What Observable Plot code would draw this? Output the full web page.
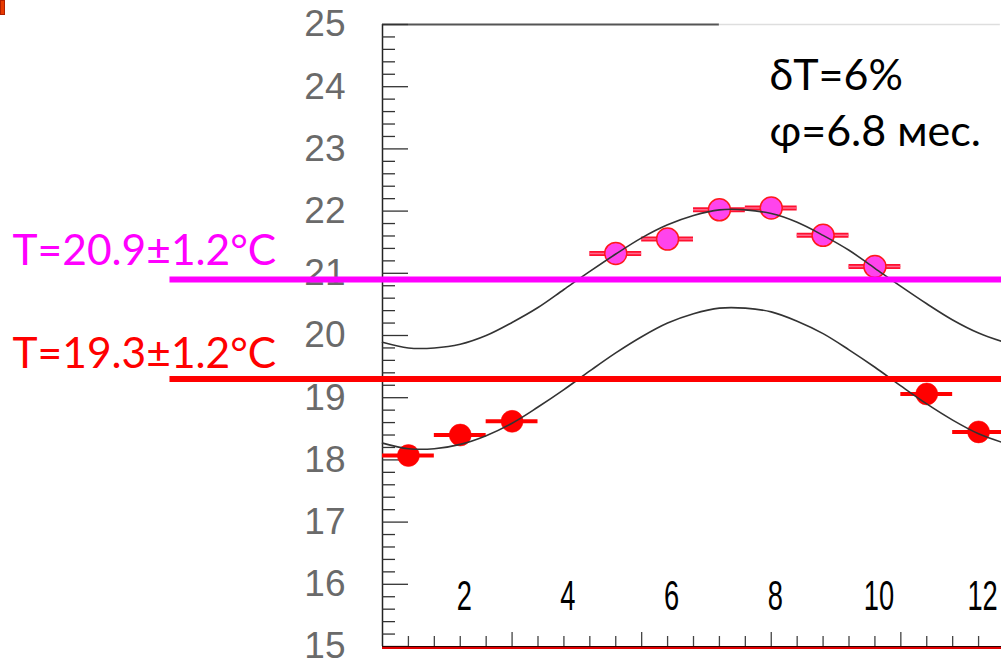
<!DOCTYPE html>
<html>
<head>
<meta charset="utf-8">
<script src="https://cdn.jsdelivr.net/npm/d3@7"></script>
<script src="https://cdn.jsdelivr.net/npm/@observablehq/plot@0.6"></script>
<style>
  html, body { margin: 0; padding: 0; background: #fff; }
  #chart { position: relative; width: 1001px; height: 659px; overflow: hidden; }
  #corner { position: absolute; left: 0; top: 0; width: 3px; height: 13px; background: #e83a00; border: 1px solid #b02000; }
</style>
</head>
<body>
<div id="chart"><div id="corner"></div></div>
<script>
// ---- data ----
const redMonths  = [1, 2, 3, 11, 12];
const redTemps   = [18.07, 18.40, 18.62, 19.06, 18.45];
const pinkMonths = [5, 6, 7, 8, 9, 10];
const pinkTemps  = [21.32, 21.55, 22.02, 22.05, 21.61, 21.11];
const monthErr   = 0.5;

const fitMonths = [0.5, 1, 1.5, 2, 2.5, 3, 3.5, 4, 4.5, 5, 5.5, 6, 6.5, 7, 7.5, 8, 8.5, 9, 9.5, 10, 10.5, 11, 11.5, 12, 12.5];
const upperFit  = [19.89, 19.80, 19.80, 19.86, 20.00, 20.21, 20.45, 20.74, 21.03, 21.31, 21.57, 21.78, 21.93, 22.02, 22.02, 21.96, 21.82, 21.61, 21.37, 21.08, 20.79, 20.51, 20.25, 20.04, 19.89];
const lowerFit  = [18.27, 18.18, 18.18, 18.25, 18.39, 18.59, 18.85, 19.13, 19.43, 19.72, 19.98, 20.20, 20.35, 20.44, 20.44, 20.38, 20.23, 20.03, 19.77, 19.49, 19.19, 18.90, 18.64, 18.42, 18.27];

const meanPink = 20.9;
const meanRed  = 19.3;
const meanPinkLabel = "T=20.9±1.2°C";
const meanRedLabel  = "T=19.3±1.2°C";
const annotLines = ["δT=6%", "φ=6.8 мес."];

const yLabels = [15, 16, 17, 18, 19, 20, 21, 22, 23, 24, 25];
const xLabels = [2, 4, 6, 8, 10, 12];

// ---- tables ----
const red  = redMonths.map((m, i) => ({m, t: redTemps[i]}));
const pink = pinkMonths.map((m, i) => ({m, t: pinkTemps[i]}));
const upper = fitMonths.map((m, i) => ({m, t: upperFit[i]}));
const lower = fitMonths.map((m, i) => ({m, t: lowerFit[i]}));

const xMin = 0.5, xMax = 12.5, yMin = 15, yMax = 25;
const lineStart = -3.6;      // mean lines start left of the frame
const yMinor = d3.range(15, 25.001, 0.2).map(v => +v.toFixed(1)).filter(v => !yLabels.includes(v));
const xMajor = [3, 5.5, 8, 10.5];
const xMinor = d3.range(1, 12.51, 0.5).filter(v => !xMajor.includes(v));

const labelFont = "Lato, 'Open Sans', sans-serif";
const xLabelFont = "'Liberation Sans', xlab, sans-serif";

const chart = Plot.plot({
  width: 1001,
  height: 659,
  marginLeft: 382,
  marginRight: -3,
  marginTop: 24,
  marginBottom: 13,
  x: {domain: [xMin, xMax]},
  y: {domain: [yMin, yMax]},
  style: {background: "white", fontFamily: "'Liberation Sans', Arial, sans-serif", overflow: "visible"},
  marks: [
    // frame pieces
    Plot.ruleY([yMax], {x1: xMin, x2: 7, stroke: "#555", strokeWidth: 2}),
    Plot.ruleY([yMax], {x1: 7, x2: 12.42, stroke: "#dedede", strokeWidth: 1.5}),
    Plot.ruleX([xMin], {y1: yMin, y2: yMax, stroke: "#222", strokeWidth: 1.5}),
    // y axis ticks (inward) and labels
    Plot.axisY({ticks: yLabels, tickSize: -26, fill: "none", stroke: "#333", strokeWidth: 1.3, label: null}),
    Plot.axisY({ticks: yMinor, tickSize: -13, fill: "none", stroke: "#333", strokeWidth: 1.3, label: null}),
    Plot.axisY({ticks: yLabels, tickSize: 0, tickPadding: 37, fontSize: 37, fill: "#6a6a6a", label: null}),
    // x axis ticks (inward)
    Plot.axisX({ticks: xMajor, tickSize: -14, fill: "none", stroke: "#444", strokeWidth: 1.3, label: null}),
    Plot.axisX({ticks: xMinor, tickSize: -10, fill: "none", stroke: "#444", strokeWidth: 1.3, label: null}),
    Plot.ruleY([yMin], {x1: xMin, x2: xMax, stroke: "#e00000", strokeWidth: 3, dy: 1}),
    Plot.ruleY([yMin], {x1: xMin, x2: xMax, stroke: "#300", strokeWidth: 1}),
    // hand-placed month labels
    Plot.text(xLabels, {x: d => d, frameAnchor: "bottom", text: d => String(d), dy: -37, dx: 4,
      fontSize: 42, fontFamily: xLabelFont, fill: "#000"}),
    // error bars
    Plot.ruleY(red, {y: "t", x1: d => d.m - monthErr, x2: d => d.m + monthErr, stroke: "#ff0000", strokeWidth: 4}),
    Plot.ruleY(pink, {y: "t", x1: d => d.m - monthErr, x2: d => d.m + monthErr, stroke: "#ff1030", strokeWidth: 5}),
    Plot.ruleY(pink, {y: "t", x1: d => d.m - monthErr, x2: d => d.m + monthErr, stroke: "#ff6a8c", strokeWidth: 1.5}),
    // points
    Plot.dot(red, {x: "m", y: "t", r: 11, fill: "#ff0000", stroke: "#ff0000", strokeWidth: 0.5}),
    Plot.dot(pink, {x: "m", y: "t", r: 11, fill: "#ff44ec", stroke: "#ff1a1a", strokeWidth: 1.5}),
    // fitted sinusoids
    Plot.line(upper, {x: "m", y: "t", curve: "catmull-rom", stroke: "#333", strokeWidth: 1.6}),
    Plot.line(lower, {x: "m", y: "t", curve: "catmull-rom", stroke: "#333", strokeWidth: 1.6}),
    // mean lines
    Plot.ruleY([meanPink], {x1: lineStart, x2: xMax, stroke: "#ff00ff", strokeWidth: 6}),
    Plot.ruleY([meanRed], {x1: lineStart, x2: xMax, stroke: "#ff0000", strokeWidth: 6}),
    Plot.text([meanPinkLabel], {y: meanPink, frameAnchor: "left", text: d => d, textAnchor: "start",
      dx: -370, dy: -28, fontSize: 42.5, fontFamily: labelFont, fill: "#ff00ff"}),
    Plot.text([meanRedLabel], {y: meanRed, frameAnchor: "left", text: d => d, textAnchor: "start",
      dx: -370, dy: -25, fontSize: 42.5, fontFamily: labelFont, fill: "#ff0000"}),
    // annotation
    Plot.text([annotLines[0]], {frameAnchor: "top-left", text: d => d, textAnchor: "start",
      dx: 387, dy: 35, fontSize: 43, fontFamily: labelFont, fill: "#000"}),
    Plot.text([annotLines[1]], {frameAnchor: "top-left", text: d => d, textAnchor: "start",
      dx: 387, dy: 91, fontSize: 43, fontFamily: labelFont, fill: "#000"})
  ]
});
document.getElementById("chart").appendChild(chart);
// condense the hand-placed month labels (narrow font look)
d3.select(chart).selectAll('g[font-family*="xlab"] text').each(function() {
  const t = this.getAttribute("transform") || "";
  this.setAttribute("transform", t + " scale(0.65,1)");
});
</script>
</body>
</html>
